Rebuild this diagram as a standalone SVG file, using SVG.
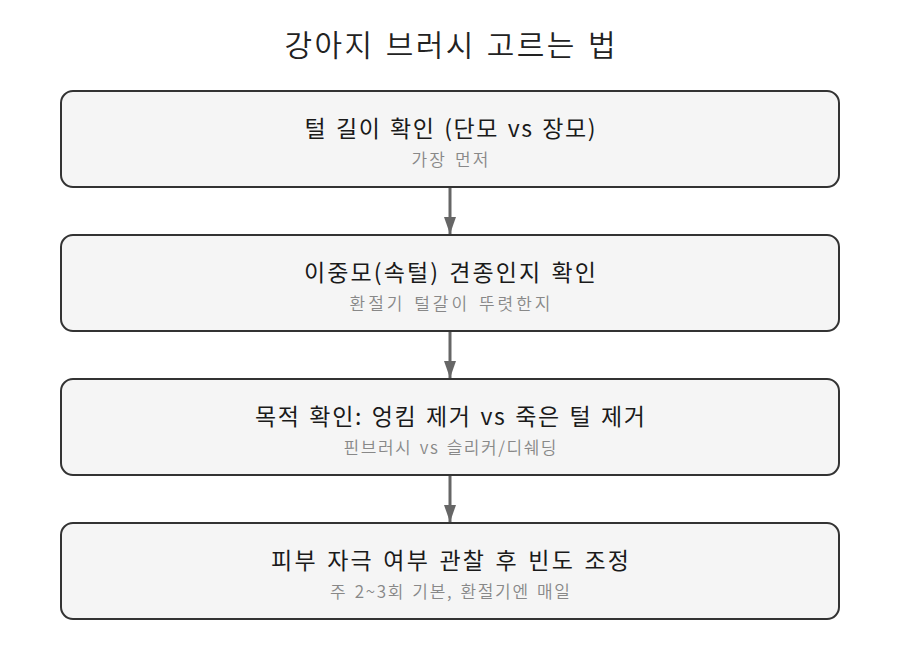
<svg xmlns="http://www.w3.org/2000/svg" width="900" height="660" viewBox="0 0 900 660">
<defs>
<style>
.box{fill:#f5f5f5;stroke:#333;stroke-width:2}
.t{font-family:"Noto Sans CJK KR","Noto Sans",sans-serif;text-anchor:middle}
.title{font-size:30px;fill:#222;word-spacing:2px;font-weight:350}
.main{font-size:23px;fill:#1a1a1a;word-spacing:2px;font-weight:400}
.sub{font-size:17px;fill:#888;word-spacing:2px;font-weight:350}
.conn line{stroke:#666;stroke-width:3}
</style>
<marker id="ah" viewBox="0 0 17 12" refX="17" refY="6" markerWidth="17" markerHeight="12" markerUnits="userSpaceOnUse" orient="auto">
<path d="M0,0 L17,6 L0,12 Z" fill="#666"/>
</marker>
</defs>
<rect width="900" height="660" fill="#fff"/>
<text class="t title" x="450" y="56" textLength="331" lengthAdjust="spacing">강아지 브러시 고르는 법</text>
<g id="n1"><rect class="box" x="61" y="91" width="778" height="96" rx="12"/>
<text class="t main" x="450" y="137" textLength="291" lengthAdjust="spacing">털 길이 확인 (단모 vs 장모)</text>
<text class="t sub" x="450" y="166" textLength="77" lengthAdjust="spacing">가장 먼저</text></g>
<g id="n2"><rect class="box" x="61" y="235" width="778" height="96" rx="12"/>
<text class="t main" x="450" y="281" textLength="292" lengthAdjust="spacing">이중모(속털) 견종인지 확인</text>
<text class="t sub" x="450" y="310" textLength="201" lengthAdjust="spacing">환절기 털갈이 뚜렷한지</text></g>
<g id="n3"><rect class="box" x="61" y="379" width="778" height="96" rx="12"/>
<text class="t main" x="450" y="425" textLength="390" lengthAdjust="spacing">목적 확인: 엉킴 제거 vs 죽은 털 제거</text>
<text class="t sub" x="450" y="454" textLength="213" lengthAdjust="spacing">핀브러시 vs 슬리커/디쉐딩</text></g>
<g id="n4"><rect class="box" x="61" y="523" width="778" height="96" rx="12"/>
<text class="t main" x="450" y="569" textLength="358" lengthAdjust="spacing">피부 자극 여부 관찰 후 빈도 조정</text>
<text class="t sub" x="450" y="598" textLength="240" lengthAdjust="spacing">주 2~3회 기본, 환절기엔 매일</text></g>
<g class="conn">
<line x1="450" y1="188" x2="450" y2="234" marker-end="url(#ah)"/>
<line x1="450" y1="332" x2="450" y2="378" marker-end="url(#ah)"/>
<line x1="450" y1="476" x2="450" y2="522" marker-end="url(#ah)"/>
</g>
</svg>
